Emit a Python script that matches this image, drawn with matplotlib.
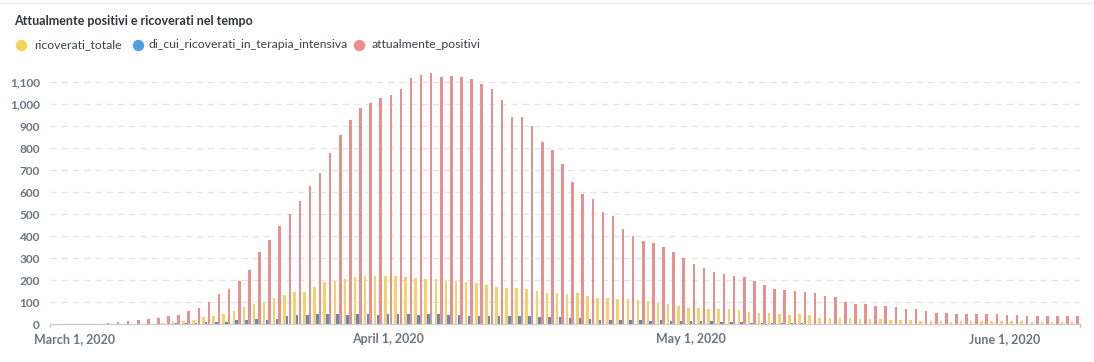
import datetime
import matplotlib
matplotlib.use('Agg')
import matplotlib.pyplot as plt
import matplotlib.dates as mdates
from matplotlib.lines import Line2D

# daily values, Feb 28 2020 -> June 8 2020
start_day = datetime.date(2020, 2, 28)

attualmente_positivi = [
	0, 0, 1, 2, 3, 6, 9, 15, 22, 24, 29, 37, 42, 60, 74, 101, 137, 160, 196, 246,
	328, 382, 446, 501, 560, 628, 686, 779, 860, 931, 983, 1004, 1027, 1041, 1070,
	1120, 1133, 1142, 1123, 1129, 1123, 1115, 1092, 1070, 1020, 942, 942, 903, 829,
	792, 728, 646, 591, 569, 510, 492, 432, 402, 379, 370, 351, 328, 301, 274, 255,
	236, 227, 218, 214, 197, 177, 161, 156, 150, 145, 141, 127, 123, 100, 91, 91,
	82, 82, 77, 68, 68, 59, 50, 50, 45, 45, 45, 45, 45, 41, 41, 36, 36, 36, 36, 36, 36]

ricoverati_totale = [
	0, 0, 0, 0, 1, 1, 1, 1, 2, 2, 3, 5, 9, 14, 18, 33, 38, 48, 61, 79,
	92, 102, 120, 133, 145, 147, 171, 192, 197, 208, 215, 220, 220, 220, 220,
	215, 209, 206, 205, 197, 197, 192, 188, 180, 170, 165, 165, 161, 152,
	142, 142, 138, 142, 129, 120, 120, 115, 115, 111, 106, 96, 91, 83, 74, 74,
	70, 70, 70, 65, 55, 52, 52, 47, 41, 47, 41, 29, 29, 29, 29, 26,
	26, 26, 20, 20, 20, 17, 15, 15, 12, 17, 17, 17, 17, 14, 17, 17, 12, 12, 12, 9, 9]

terapia_intensiva = [
	0, 0, 0, 0, 0, 0, 0, 0, 0, 1, 2, 3, 5, 8, 8, 9, 12, 12, 18, 21,
	23, 18, 26, 36, 42, 41, 45, 47, 47, 42, 45, 46, 41, 45, 46,
	46, 42, 46, 47, 44, 42, 38, 38, 38, 38, 38, 38, 38, 33,
	33, 32, 27, 27, 23, 18, 18, 18, 18, 18, 14, 20, 14, 14, 14, 14,
	14, 12, 9, 9, 8, 6, 5, 5, 4, 4, 3, 3, 3, 2, 2, 2,
	2, 2, 1, 1, 1, 1, 1, 1, 1, 1, 1, 1, 1, 1, 1, 1, 1, 1, 1, 0, 0]

series_names = ['ricoverati_totale', 'di_cui_ricoverati_in_terapia_intensiva', 'attualmente_positivi']
legend_colors = ['#F9D45C', '#509EE3', '#EF8C8C']
bar_colors = ['#F5D168', '#5B8DC4', '#E8908F']

tick_dates = [datetime.date(2020, 3, 1), datetime.date(2020, 4, 1),
			  datetime.date(2020, 5, 1), datetime.date(2020, 6, 1)]
tick_labels = ['March 1, 2020', 'April 1, 2020', 'May 1, 2020', 'June 1, 2020']
y_ticks = list(range(0, 1101, 100))

plt.rcParams['font.family'] = ['Lato', 'DejaVu Sans']

days = [start_day + datetime.timedelta(days=i) for i in range(len(attualmente_positivi))]
x = mdates.date2num(days)

fig = plt.figure(figsize=(10.94, 3.62), dpi=100)
ax = fig.add_axes([0.0454, 0.104, 0.9418, 0.699])

w = 0.25
off = 0.27
ax.bar(x - off, ricoverati_totale, width=w, color=bar_colors[0], zorder=3)
ax.bar(x, terapia_intensiva, width=w, color=bar_colors[1], zorder=3)
ax.bar(x + off, attualmente_positivi, width=w, color=bar_colors[2], zorder=3)

ax.set_xlim(x[0] - 0.5, x[-1] + 0.5)
ax.set_ylim(0, 1150)

ax.set_yticks(y_ticks)
ax.set_yticklabels([f"{v:,}" for v in y_ticks], fontsize=8.6, fontweight='bold', color='#6B7681')
ax.set_xticks(mdates.date2num(tick_dates))
ax.set_xticklabels(tick_labels, fontsize=9, fontweight='bold', color='#6B7681')
ax.tick_params(axis='both', length=0)
ax.tick_params(axis='y', pad=7)
ax.tick_params(axis='x', pad=6)

for v in y_ticks[1:]:
	ax.axhline(v, color='#E4E4E4', linewidth=0.9, linestyle=(0, (5, 4)), zorder=1)

for s in ['top', 'right', 'left']:
	ax.spines[s].set_visible(False)
ax.spines['bottom'].set_color('#C9CDD2')
ax.spines['bottom'].set_linewidth(1)

# small end ticks on the x axis
for xe in ax.get_xlim():
	ax.plot([xe, xe], [0, -12], color='#C9CDD2', linewidth=1, clip_on=False)

# card top border
fig.add_artist(Line2D([0, 1], [0.992, 0.992], color='#EAEAEA', linewidth=1, transform=fig.transFigure))

fig.text(14 / 1094, 1 - 21 / 362, 'Attualmente positivi e ricoverati nel tempo',
		 fontsize=9, fontweight='bold', color='#2E353B', va='center', ha='left')

dot_x = [20.7, 138.3, 359]
text_x = [34, 149, 372]
ly = 1 - 44.7 / 362
for i in range(3):
	fig.add_artist(Line2D([dot_x[i] / 1094], [ly], marker='o', markersize=7.2, color=legend_colors[i],
						  linestyle='none', transform=fig.transFigure))
	fig.text(text_x[i] / 1094, ly, series_names[i], fontsize=8.8, color='#3A424D', va='center', ha='left')

fig.savefig('out.png', dpi=100)
plt.close()
